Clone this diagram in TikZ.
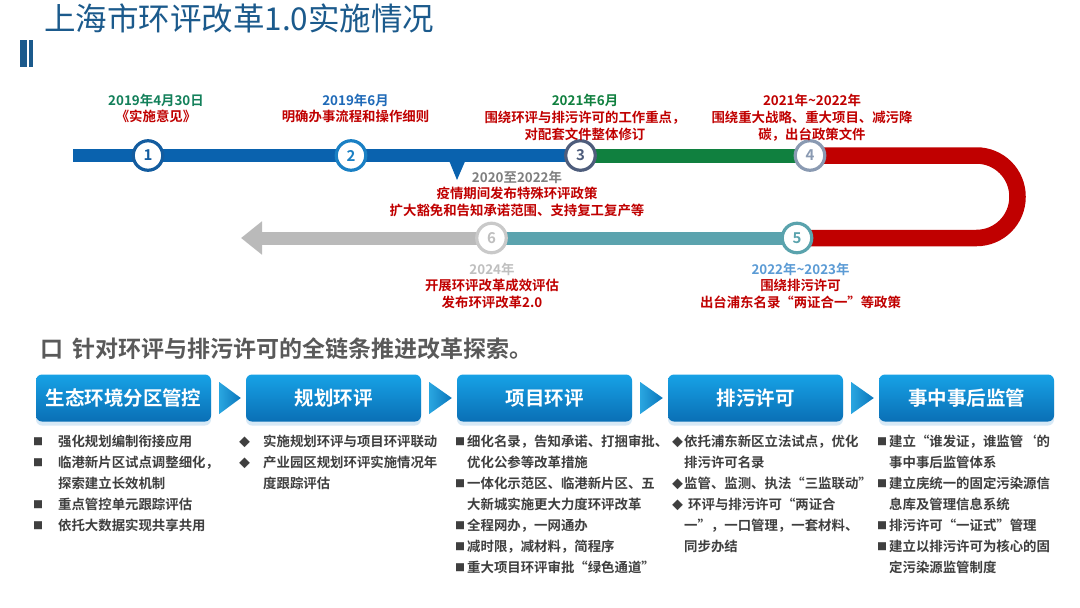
\documentclass[tikz,border=0pt]{standalone}
\usepackage{fontspec}
\setmainfont{Noto Sans CJK SC}[BoldFont={Noto Sans CJK SC Bold}]
\usetikzlibrary{shadows,calc,arrows.meta}
\definecolor{ctitle}{HTML}{1B5A8C}
\definecolor{cblue}{HTML}{0A62AE}
\definecolor{cgreen}{HTML}{10803F}
\definecolor{cred}{HTML}{C00000}
\definecolor{cteal}{HTML}{5BA3AE}
\definecolor{cgrey}{HTML}{BABABA}
\definecolor{rA}{HTML}{135C9F}
\definecolor{rB}{HTML}{1A80C4}
\definecolor{rC}{HTML}{4E5D7C}
\definecolor{rD}{HTML}{8A9AB2}
\definecolor{rE}{HTML}{5AA3AD}
\definecolor{rF}{HTML}{C9C9C9}
\definecolor{lgreen}{HTML}{13805A}
\definecolor{lblue}{HTML}{1F6AB8}
\definecolor{lgrey}{HTML}{7F7F7F}
\definecolor{llgrey}{HTML}{BFBFBF}
\definecolor{lsky}{HTML}{5B9BD5}
\definecolor{boxtop}{HTML}{17A2E6}
\definecolor{boxbot}{HTML}{0A6FB5}
\definecolor{shadowc}{HTML}{8FC0E6}
\definecolor{tril}{HTML}{2AA6E0}
\definecolor{trir}{HTML}{0A76BC}
\definecolor{ctext}{HTML}{3F3F3F}
\definecolor{chead}{HTML}{595959}
\newcommand{\sqb}{\raisebox{1.3pt}{\fontsize{10}{10}\selectfont ■}}
\newcommand{\dmb}{\raisebox{0.9pt}{\fontsize{11}{11}\selectfont ◆}}
\begin{document}
\begin{tikzpicture}[x=1pt,y=-1pt,
  band/.style={line width=13pt},
  lbl/.style={anchor=north, align=center, inner sep=0pt, text=cred, font=\bfseries\fontsize{13.4}{16.7}\selectfont},
  num/.style={circle, fill=white, line width=3.2pt, minimum size=29.5pt, inner sep=0pt, font=\bfseries\fontsize{15}{15}\selectfont},
  hbox/.style={rounded corners=6pt, minimum width=175pt, minimum height=47pt, top color=boxtop, bottom color=boxbot, text=white, inner sep=0pt, font=\bfseries\fontsize{19.5}{20}\selectfont, drop shadow={shadow xshift=0pt, shadow yshift=-4pt, opacity=.35, fill=shadowc}},
  tri/.style={left color=tril, right color=trir},
  col/.style={anchor=north west, align=left, inner sep=0pt, text=ctext, font=\bfseries\fontsize{13.4}{21}\selectfont}]
\useasboundingbox (0,0) rectangle (1080,608);
\fill[white] (0,0) rectangle (1080,608);
% title
\node[anchor=base west, inner sep=0pt, text=ctitle, font=\fontsize{31.5}{32}\selectfont] (title) at (44,30) {上海市环评改革1.0实施情况};
\fill[ctitle] (20,40) rectangle (27,67);
\fill[ctitle] (28.5,40) rectangle (32.5,67);
% timeline coordinates
\coordinate (start) at (73,155.5);
\coordinate (p1) at (148,155.5);
\coordinate (p2) at (351,155.5);
\coordinate (p3) at (580.5,155.5);
\coordinate (p4) at (810,155.5);
\coordinate (p5) at (797,238);
\coordinate (p6) at (491.5,238);
\coordinate (gtip) at (241,238);
% bands
\draw[band, cgrey, -{Triangle[length=21pt,width=32pt]}] (p6) -- (gtip);
\draw[band, cteal] (p5) -- (p6);
\draw[line width=16.5pt, cred, rounded corners=41pt] (p4) -- (1017.5,155.5) -- (1017.5,238) -- (p5);
\draw[line width=14pt, cgreen] (p3) -- (p4);
\draw[line width=12.5pt, cblue] (start) -- (p3);
\fill[cblue] (448,158) -- (466.5,158) -- (457,180) -- cycle;
% circles
\node[num, draw=rA, text=rA] (c1) at (p1) {1};
\node[num, draw=rB, text=rB] (c2) at (p2) {2};
\node[num, draw=rC, text=rC] (c3) at (p3) {3};
\node[num, draw=rD, text=rD] (c4) at (p4) {4};
\node[num, draw=rE, text=rE] (c5) at (p5) {5};
\node[num, draw=rF, text=llgrey] (c6) at (p6) {6};
% labels
\node[lbl] (l1) at (156,93.5) {\textcolor{lgreen}{2019年4月30日}\\《实施意见》};
\node[lbl] (l2) at (355.5,93.5) {\textcolor{lblue}{2019年6月}\\明确办事流程和操作细则};
\node[lbl] (l3) at (585,94) {\textcolor{cgreen}{2021年6月}\\围绕环评与排污许可的工作重点，\\对配套文件整体修订};
\node[lbl] (l4) at (812,94) {2021年\textasciitilde2022年\\围绕重大战略、重大项目、减污降\\碳，出台政策文件};
\node[lbl] (lm) at (517,170.5) {\textcolor{lgrey}{2020至2022年}\\疫情期间发布特殊环评政策\\扩大豁免和告知承诺范围、支持复工复产等};
\node[lbl] (l6) at (492,262.5) {\textcolor{llgrey}{2024年}\\开展环评改革成效评估\\发布环评改革2.0};
\node[lbl] (l5) at (800.5,262.5) {\textcolor{lsky}{2022年\textasciitilde2023年}\\围绕排污许可\\出台浦东名录“两证合一”等政策};
% heading
\node[anchor=base west, inner sep=0pt, text=chead, font=\bfseries\fontsize{23}{23}\selectfont] (head) at (40,357.5) {口\hspace{0.2em} 针对环评与排污许可的全链条推进改革探索。};
% boxes
\node[hbox] (b1) at (123.5,398) {生态环境分区管控};
\node[hbox] (b2) at (333.5,398) {规划环评};
\node[hbox] (b3) at (544.5,398) {项目环评};
\node[hbox] (b4) at (755.5,398) {排污许可};
\node[hbox] (b5) at (966.5,398) {事中事后监管};
\shade[tri] ($(b1.east)+(8,-16)$) -- ($(b1.east)+(8,16)$) -- ($(b2.west)+(-5,0)$) -- cycle;
\shade[tri] ($(b2.east)+(8,-16)$) -- ($(b2.east)+(8,16)$) -- ($(b3.west)+(-5,0)$) -- cycle;
\shade[tri] ($(b3.east)+(8,-16)$) -- ($(b3.east)+(8,16)$) -- ($(b4.west)+(-5,0)$) -- cycle;
\shade[tri] ($(b4.east)+(8,-16)$) -- ($(b4.east)+(8,16)$) -- ($(b5.west)+(-5,0)$) -- cycle;
% bullet columns
\node[col] (k1) at (33,435.2) {\makebox[25pt][l]{\sqb}强化规划编制衔接应用\\
\makebox[25pt][l]{\sqb}临港新片区试点调整细化，\\
\hspace*{25pt}探索建立长效机制\\
\makebox[25pt][l]{\sqb}重点管控单元跟踪评估\\
\makebox[25pt][l]{\sqb}依托大数据实现共享共用};
\node[col] (k2) at (239,435.2) {\makebox[24pt][l]{\dmb}实施规划环评与项目环评联动\\
\makebox[24pt][l]{\dmb}产业园区规划环评实施情况年\\
\hspace*{24pt}度跟踪评估};
\node[col] (k3) at (455,435.2) {\makebox[12pt][l]{\sqb}细化名录，告知承诺、打捆审批、\\
\hspace*{12pt}优化公参等改革措施\\
\makebox[12pt][l]{\sqb}一体化示范区、临港新片区、五\\
\hspace*{12pt}大新城实施更大力度环评改革\\
\makebox[12pt][l]{\sqb}全程网办，一网通办\\
\makebox[12pt][l]{\sqb}减时限，减材料，简程序\\
\makebox[12pt][l]{\sqb}重大项目环评审批“绿色通道”};
\node[col] (k4) at (672,435.2) {\makebox[12pt][l]{\dmb}依托浦东新区立法试点，优化\\
\hspace*{12pt}排污许可名录\\
\makebox[12pt][l]{\dmb}监管、监测、执法“三监联动”\\
\makebox[16pt][l]{\dmb}环评与排污许可“两证合\\
\hspace*{12pt}一”，一口管理，一套材料、\\
\hspace*{12pt}同步办结};
\node[col] (k5) at (877,435.2) {\makebox[12pt][l]{\sqb}建立“谁发证，谁监管‘的\\
\hspace*{12pt}事中事后监管体系\\
\makebox[12pt][l]{\sqb}建立庑统一的固定污染源信\\
\hspace*{12pt}息库及管理信息系统\\
\makebox[12pt][l]{\sqb}排污许可“一证式”管理\\
\makebox[12pt][l]{\sqb}建立以排污许可为核心的固\\
\hspace*{12pt}定污染源监管制度};
\end{tikzpicture}
\end{document}
